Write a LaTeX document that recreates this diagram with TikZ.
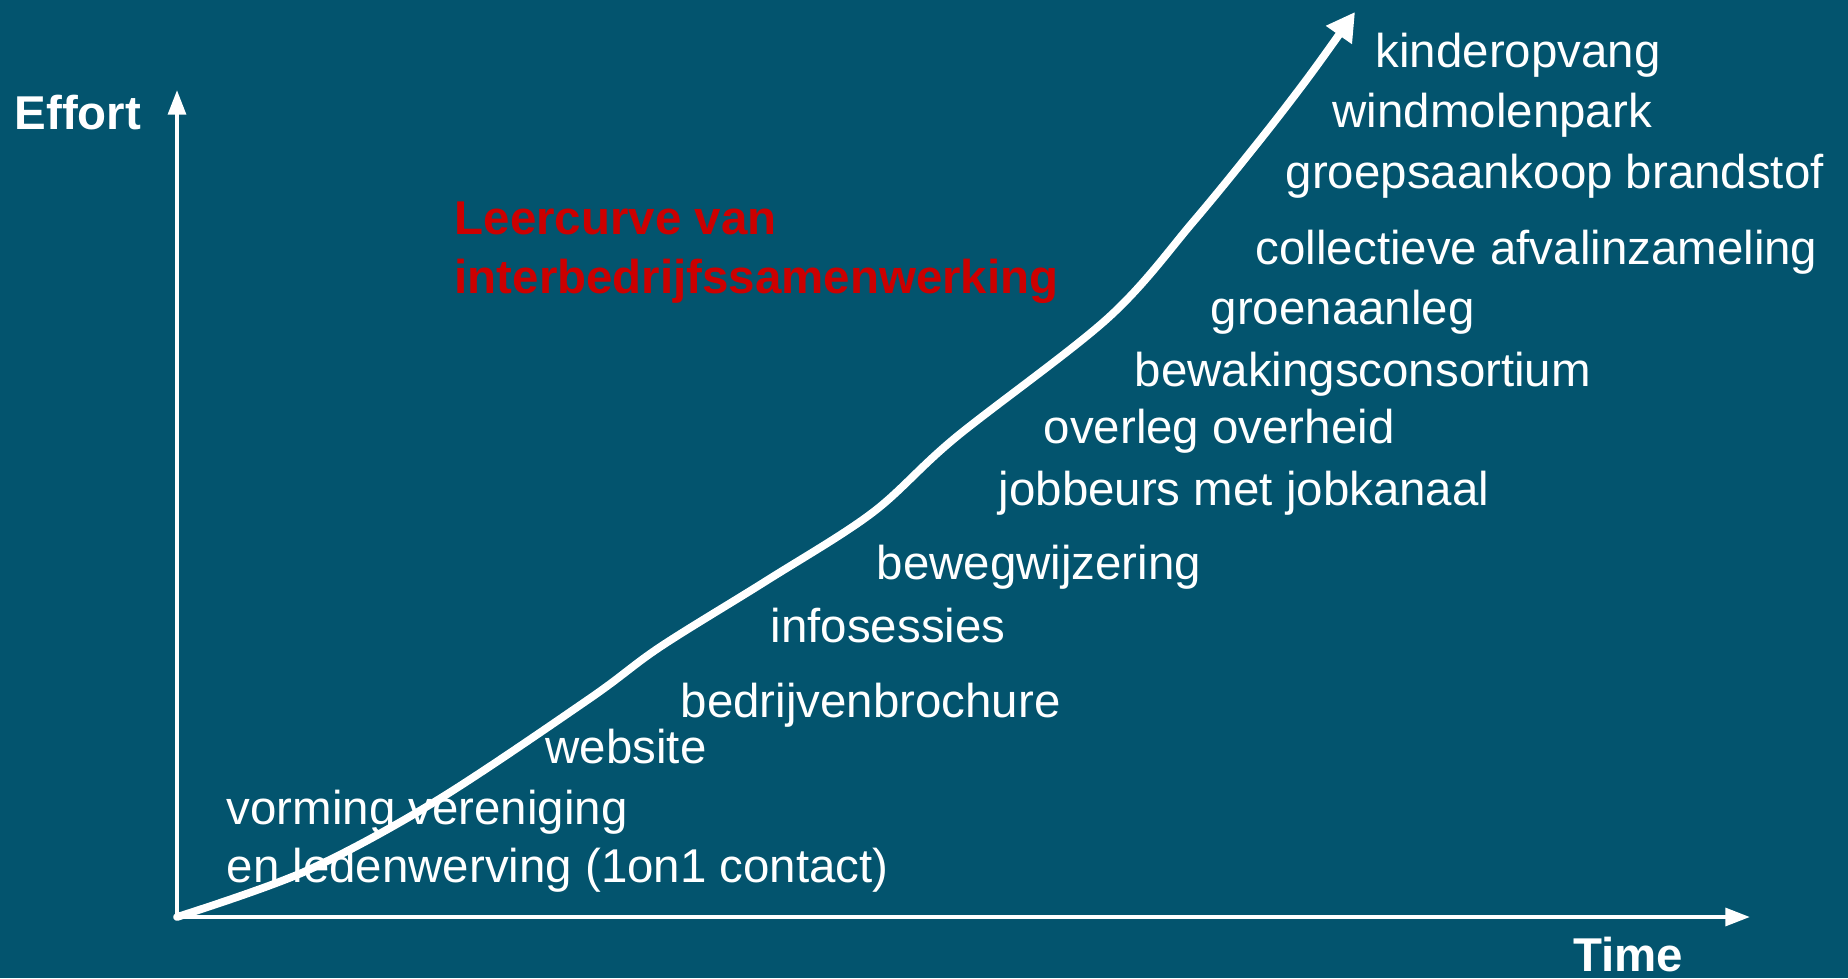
\documentclass[tikz,border=0pt]{standalone}
\usepackage{fontspec}
\setmainfont{Liberation Sans}
\usetikzlibrary{arrows.meta}
\definecolor{bgblue}{RGB}{3,84,110}
\definecolor{titlered}{RGB}{204,0,0}
\begin{document}
\begin{tikzpicture}[x=1cm,y=1cm,
    step label/.style={anchor=west,inner sep=0pt,text=white,font=\fontsize{13.5}{16.5}\selectfont,align=left},
    axis label/.style={inner sep=0pt,text=white,font=\fontsize{13.5}{16}\selectfont\bfseries},
    axis line/.style={white,line width=1.2pt,-{Triangle[length=7pt,width=5pt]}}]
        \fill [bgblue] (0,0) rectangle (18.48,9.78);
        \useasboundingbox (0,0) rectangle (18.48,9.78);

        \coordinate (o) at (1.77,0.61);
        \coordinate (ytop) at (1.77,8.88);
        \coordinate (xend) at (17.50,0.61);
        \draw [axis line] (o) -- (ytop);
        \draw [axis line] (o) -- (xend);
        \draw (0.14,8.65) node (effort) [axis label,anchor=west] {Effort};
        \draw (16.28,0.23) node (time) [axis label] {Time};

        % learning curve
        \draw [white,line width=2.2pt,line cap=round,line join=round,-{Triangle[length=8pt,width=8.5pt]}]
            plot [smooth,tension=0.55] coordinates {(1.77,0.61) (3.06,1.07) (4.36,1.77) (5.89,2.79) (6.60,3.31) (7.66,3.97) (8.72,4.65) (9.55,5.40) (11.08,6.60) (11.93,7.56) (12.60,8.38) (13.10,9.03) (13.55,9.66)};

        \draw (4.54,7.25) node (title) [anchor=west,inner sep=0pt,align=left,text=titlered,
            font=\fontsize{13.5}{16.8}\selectfont\bfseries] {Leercurve van\\interbedrijfssamenwerking};

        \draw (2.26,1.37) node (vorming) [step label] {vorming vereniging\\en ledenwerving (1on1 contact)};
        \draw (5.45,2.31) node (website) [step label] {website};
        \draw (6.80,2.73) node (brochure) [step label] {bedrijvenbrochure};
        \draw (7.70,3.52) node (infosessies) [step label] {infosessies};
        \draw (8.76,4.11) node (bewegwijzering) [step label] {bewegwijzering};
        \draw (9.98,4.85) node (jobbeurs) [step label] {jobbeurs met jobkanaal};
        \draw (10.43,5.47) node (overleg) [step label] {overleg overheid};
        \draw (11.34,6.04) node (bewaking) [step label] {bewakingsconsortium};
        \draw (12.10,6.66) node (groen) [step label] {groenaanleg};
        \draw (12.55,7.26) node (afval) [step label] {collectieve afvalinzameling};
        \draw (12.85,8.02) node (brandstof) [step label] {groepsaankoop brandstof};
        \draw (13.32,8.63) node (windmolen) [step label] {windmolenpark};
        \draw (13.75,9.23) node (kinderopvang) [step label] {kinderopvang};
    \end{tikzpicture}
\end{document}
